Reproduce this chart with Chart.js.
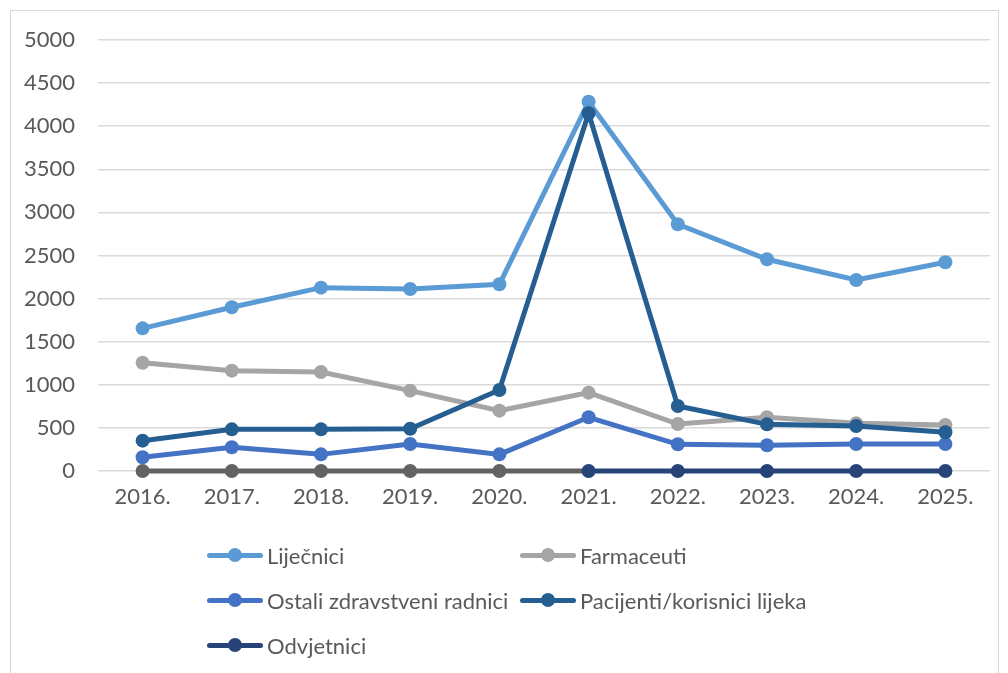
<!DOCTYPE html>
<html>
<head>
<meta charset="utf-8">
<script src="https://cdn.jsdelivr.net/npm/chart.js@4.4.1/dist/chart.umd.min.js"></script>
<style>
  html, body { margin:0; padding:0; background:#fff; }
  #wrap { position:relative; width:1008px; height:673px; overflow:hidden; }
  #frame { position:absolute; left:10px; top:10px; width:989px; height:700px; border:1px solid #d9d9d9; box-sizing:border-box; }
  #c { position:absolute; left:0; top:0; }
  .lg { position:absolute; font-family:Lato, "Open Sans", sans-serif; font-size:22px; color:#595959; white-space:nowrap; line-height:24px; }
  .lg .sw { position:absolute; left:0; top:9px; width:56px; height:5px; border-radius:3px; }
  .lg .dot { position:absolute; left:21px; top:4px; width:14px; height:14px; border-radius:50%; }
  .lg .tx { position:absolute; left:60px; top:0; }
</style>
</head>
<body>
<div id="wrap">
  <div id="frame"></div>
  <canvas id="c" width="1008" height="673"></canvas>
</div>
<script>
const years = ["2016.","2017.","2018.","2019.","2020.","2021.","2022.","2023.","2024.","2025."];
const seriesNames = ["Liječnici","Farmaceuti","Ostali zdravstveni radnici","Pacijenti/korisnici lijeka","Odvjetnici"];
const lijecnici  = [1655, 1899, 2127, 2111, 2166, 4284, 2862, 2456, 2216, 2421];
const farmaceuti = [1256, 1164, 1148, 932, 700, 909, 545, 623, 553, 534];
const ostali     = [159, 275, 193, 313, 193, 623, 310, 298, 313, 313];
const pacijenti  = [352, 483, 483, 491, 940, 4150, 754, 541, 522, 449];
const odvjetnici = [0, 0, 0, 0, 0, 0, 0, 0, 0, 0];
const yTicks = [0, 500, 1000, 1500, 2000, 2500, 3000, 3500, 4000, 4500, 5000];

const colors = ["#5B9BD5", "#A5A5A5", "#4472C4", "#255E91", "#264478"];
const earlyGray = "#636363";
const splitIndex = 5;

const allData = [lijecnici, farmaceuti, ostali, pacijenti, odvjetnici];
const FONT = 'Lato, "Open Sans", sans-serif';

const datasets = allData.map((d, i) => {
  const ds = {
    label: seriesNames[i],
    data: d,
    borderColor: colors[i],
    backgroundColor: colors[i],
    pointBackgroundColor: colors[i],
    pointBorderColor: colors[i],
    borderWidth: 5,
    pointRadius: 7,
    pointHoverRadius: 7,
    pointBorderWidth: 0,
    tension: 0,
    clip: false,
    order: allData.length - i
  };
  if (i === 4) {
    ds.segment = { borderColor: ctx => ctx.p0DataIndex < splitIndex ? earlyGray : colors[4] };
    ds.pointBackgroundColor = d.map((v, k) => k < splitIndex ? earlyGray : colors[4]);
    ds.pointBorderColor = ds.pointBackgroundColor;
  }
  return ds;
});

new Chart(document.getElementById('c'), {
  type: 'line',
  data: { labels: years, datasets },
  options: {
    responsive: false,
    animation: false,
    layout: { padding: { top: 40, right: 18, bottom: 162, left: 0 } },
    plugins: { legend: { display: false }, tooltip: { enabled: false } },
    scales: {
      x: {
        offset: true,
        grid: { display: false, drawTicks: false },
        border: { display: false },
        ticks: { color: '#595959', font: { family: FONT, size: 22 }, padding: 13 },
        afterFit: s => { s.height = 40; }
      },
      y: {
        min: 0, max: 5000,
        afterBuildTicks: s => { s.ticks = yTicks.map(v => ({ value: v })); },
        grid: { color: '#d9d9d9', lineWidth: 1.5, drawTicks: false },
        border: { display: false },
        ticks: { color: '#595959', font: { family: FONT, size: 22 }, padding: 23, callback: v => String(v) },
        afterFit: s => { s.width = 98; }
      }
    }
  }
});

// legend (HTML, built from the series arrays)
const legendPos = [[207,544],[520,544],[207,589],[520,589],[207,634]];
const wrap = document.getElementById('wrap');
seriesNames.forEach((n, i) => {
  const el = document.createElement('div');
  el.className = 'lg';
  el.style.left = legendPos[i][0] + 'px';
  el.style.top = legendPos[i][1] + 'px';
  el.innerHTML = '<div class="sw" style="background:' + colors[i] + '"></div>' +
                 '<div class="dot" style="background:' + colors[i] + '"></div>' +
                 '<div class="tx"></div>';
  el.querySelector('.tx').textContent = n;
  wrap.appendChild(el);
});
</script>
</body>
</html>
